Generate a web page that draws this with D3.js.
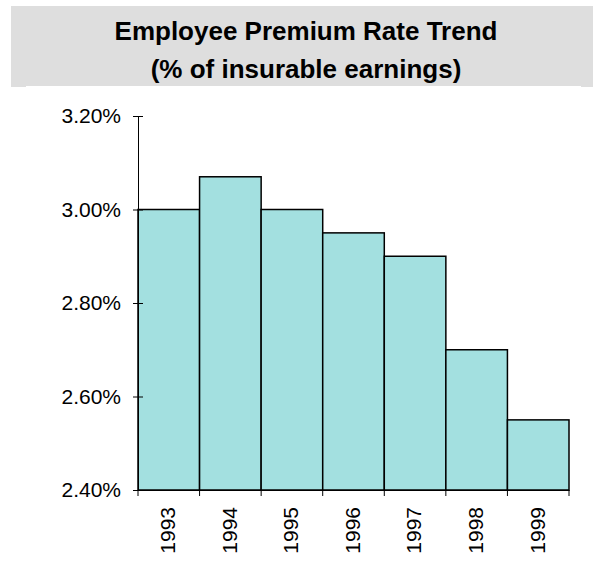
<!DOCTYPE html>
<html><head><meta charset="utf-8">
<script src="https://cdn.jsdelivr.net/npm/d3@7"></script>
<style>body{margin:0;background:#fff;}svg{display:block;font-family:"Liberation Sans",Arial,sans-serif;}</style>
</head><body>
<script>
const years = ["1993","1994","1995","1996","1997","1998","1999"];
const rates = [3.00, 3.07, 3.00, 2.95, 2.90, 2.70, 2.55];
const yTicks = [2.40, 2.60, 2.80, 3.00, 3.20];
const titleLines = ["Employee Premium Rate Trend", "(% of insurable earnings)"];

const W = 593, H = 565;
const svg = d3.select("body").append("svg").attr("width", W).attr("height", H);

svg.append("rect").attr("x", 11).attr("y", 6).attr("width", 582).attr("height", 81).attr("fill", "#dedede");
svg.append("rect").attr("x", 26).attr("y", 86).attr("width", 555).attr("height", 1).attr("fill", "#fff");

svg.selectAll("text.title").data(titleLines).join("text")
  .attr("class", "title")
  .attr("x", 306).attr("y", (d, i) => 40 + i * 37.5)
  .attr("text-anchor", "middle").attr("font-size", 26).attr("font-weight", "bold").attr("fill", "#000")
  .text(d => d);

const x = d3.scaleBand().domain(years).range([138, 569]).padding(0);
const y = d3.scaleLinear().domain([2.40, 3.20]).range([490, 116]);

svg.selectAll("rect.bar").data(rates).join("rect")
  .attr("class", "bar")
  .attr("x", (d, i) => x(years[i]))
  .attr("y", d => y(d))
  .attr("width", x.bandwidth())
  .attr("height", d => y(2.40) - y(d))
  .attr("fill", "#a3e0e0").attr("stroke", "#000").attr("stroke-width", 1.5);

const yAxis = svg.append("g").attr("transform", "translate(138,0)")
  .call(d3.axisLeft(y).tickValues(yTicks).tickFormat(d => d.toFixed(2) + "%").tickSizeInner(5).tickSizeOuter(0));
yAxis.selectAll(".tick line").attr("x1", 5).attr("x2", -5).attr("stroke", "#000");
yAxis.selectAll("text").attr("font-size", 21).attr("font-family", "Liberation Sans, Arial, sans-serif").attr("x", -17).attr("fill", "#000");
yAxis.select(".domain").attr("stroke", "#000");

const xAxis = svg.append("g").attr("transform", "translate(0,490)")
  .call(d3.axisBottom(x).tickSizeInner(0).tickSizeOuter(0));
xAxis.select(".domain").attr("stroke", "#000");
xAxis.selectAll(".tick line").remove();
xAxis.selectAll("text")
  .attr("font-size", 21).attr("font-family", "Liberation Sans, Arial, sans-serif").attr("fill", "#000")
  .attr("transform", "rotate(-90)")
  .attr("x", -17).attr("y", -1).attr("dy", "0.35em")
  .attr("text-anchor", "end");
const edges = years.map(d => x(d)).concat([x(years[years.length - 1]) + x.bandwidth()]);
xAxis.selectAll("line.edge").data(edges).join("line")
  .attr("class", "edge")
  .attr("x1", d => d).attr("x2", d => d).attr("y1", 0).attr("y2", 6)
  .attr("stroke", "#000");
</script>
</body></html>
